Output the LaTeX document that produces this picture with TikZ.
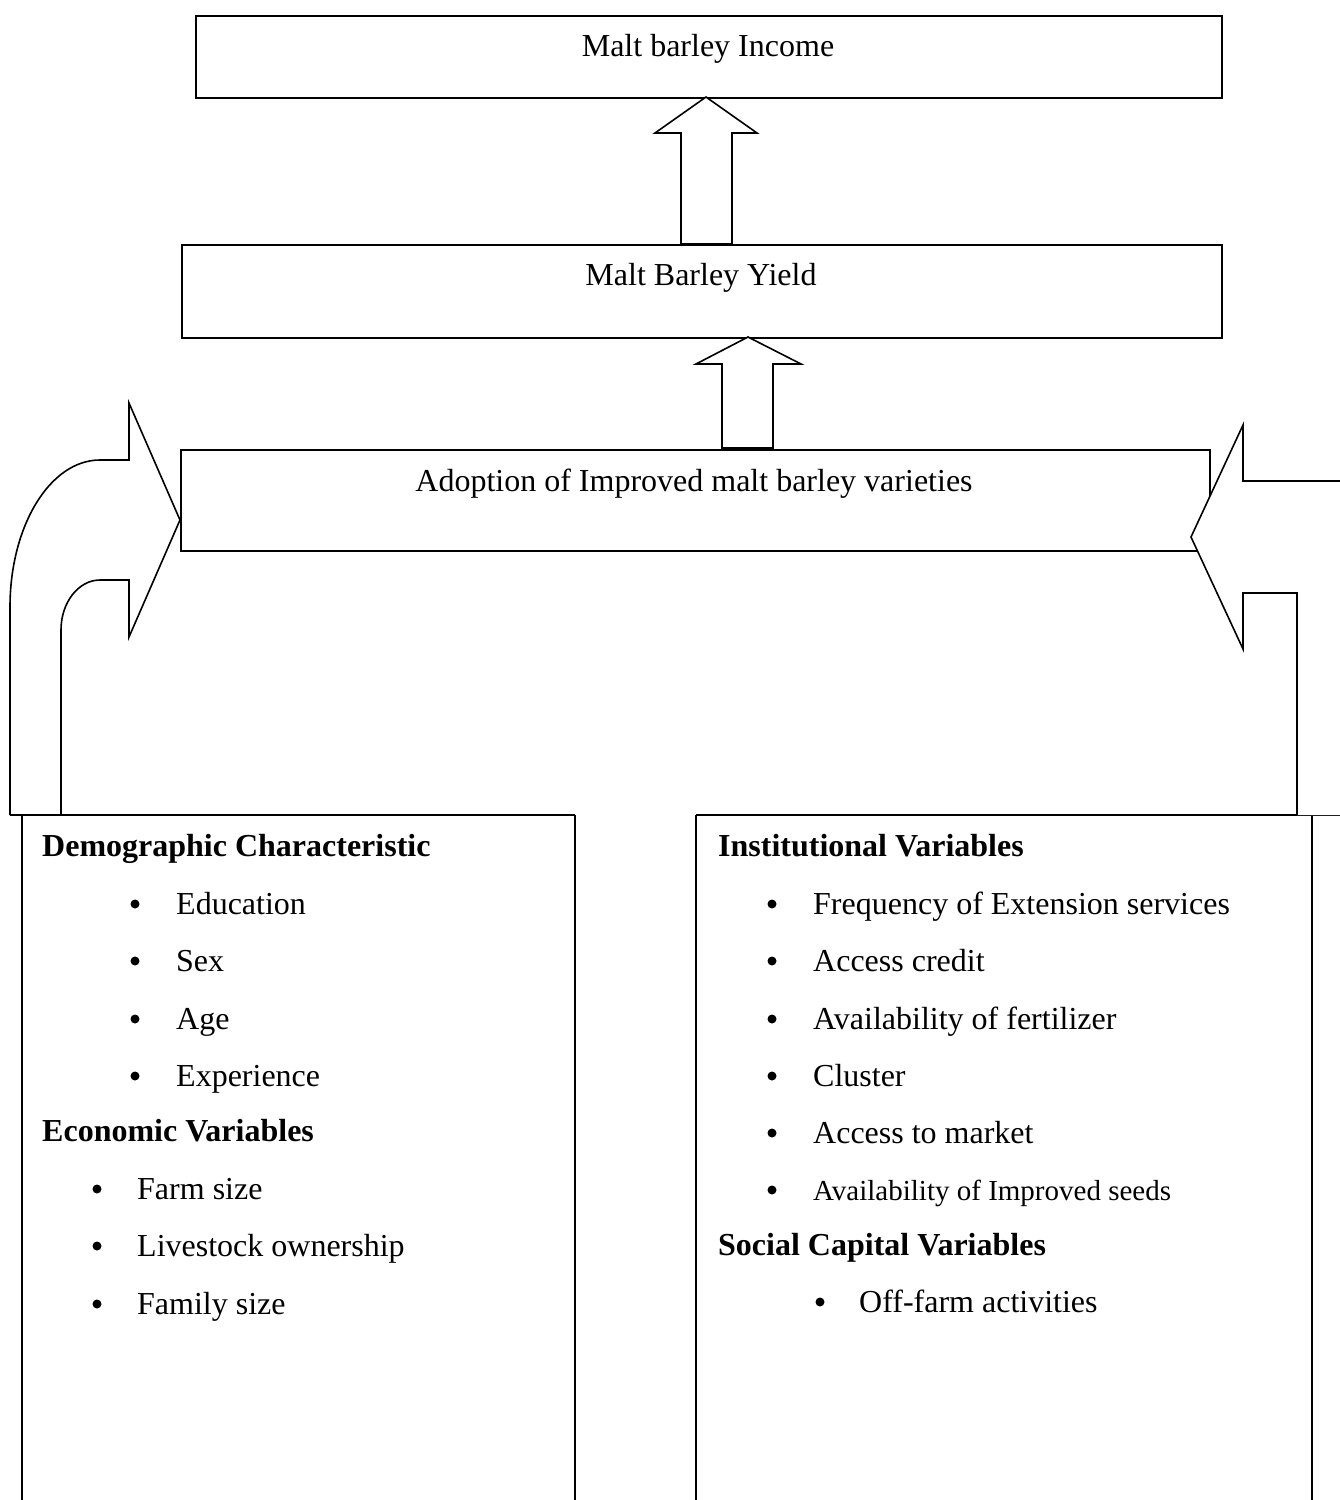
\documentclass[tikz,border=0pt]{standalone}
\usepackage{fontspec}
\setmainfont{Liberation Serif}
\begin{document}
\begin{tikzpicture}[x=1pt,y=-1pt,
  box/.style={draw, line width=1.8pt, rectangle, inner sep=0pt, anchor=north west},
  blk/.style={draw, line width=1.6pt, fill=white, line join=miter},
  edge/.style={draw, line width=1.6pt},
  ctxt/.style={inner sep=0pt, anchor=base, font=\fontsize{32}{38}\selectfont},
  ltxt/.style={inner sep=0pt, anchor=base west, font=\fontsize{32}{38}\selectfont},
  stxt/.style={inner sep=0pt, anchor=base west, font=\fontsize{29}{34}\selectfont},
  head/.style={inner sep=0pt, anchor=base west, font=\fontsize{32}{38}\selectfont\bfseries},
  dot/.style={circle, fill, inner sep=0pt, minimum size=9pt}
]
\useasboundingbox (0,0) rectangle (1340,1500);
\clip (0,0) rectangle (1340,1500);

% main boxes
\node[box, minimum width=1026pt, minimum height=82pt] (inc) at (195,15) {};
\node[ctxt] (inct) at (708,56) {Malt barley Income};
\node[box, minimum width=1040pt, minimum height=93pt] (yld) at (181,244) {};
\node[ctxt] (yldt) at (701,285) {Malt Barley Yield};
\node[box, minimum width=1029pt, minimum height=101pt] (adp) at (180,449) {};
\node[ctxt] (adpt) at (694,491) {Adoption of Improved malt barley varieties};

% up block arrows
\draw[blk] (706,97) -- (757,133) -- (732,133) -- (732,244) -- (681,244) -- (681,133) -- (655,133) -- cycle;
\draw[blk] (748,337) -- (801,364) -- (773,364) -- (773,448) -- (722,448) -- (722,364) -- (696,364) -- cycle;

% lower boxes (open at the bottom)
\coordinate (lbl) at (22,1510);
\coordinate (lbr) at (575,1510);
\coordinate (rbl) at (696,1510);
\coordinate (rbr) at (1312,1510);
\draw[edge] (10,815) -- (575,815);
\draw[edge] (22,815) -- (lbl);
\draw[edge] (575,815) -- (lbr);
\draw[edge] (696,815) -- (1345,815);
\draw[edge] (696,815) -- (rbl);
\draw[edge] (1312,815) -- (rbr);

% left bent arrow
\draw[edge, line join=miter] (10,815) -- (10,607) .. controls (10,526) and (50,460) .. (100,460)
  -- (129,460) -- (129,403) -- (180,520) -- (129,637) -- (129,580) -- (100,580)
  .. controls (78.5,580) and (61,602.4) .. (61,630) -- (61,815);

% right bent arrow (cut by the page edge)
\fill[white] (1297,815) -- (1297,593) -- (1243,593) -- (1243,649) -- (1191,537) -- (1243,425) -- (1243,481) -- (1345,481) -- (1345,815) -- cycle;
\draw[edge, line join=miter] (1297,815) -- (1297,593) -- (1243,593) -- (1243,649) -- (1191,537) -- (1243,425) -- (1243,481) -- (1345,481);

% left box text
\node[head] (dem) at (42,856) {Demographic Characteristic};
\foreach \n/\t/\y in {d1/Education/914, d2/Sex/971, d3/Age/1029, d4/Experience/1086} {
  \node[ltxt] (\n) at (176,\y) {\t};
  \node[dot] (b\n) at (135,{\y-10}) {};
}
\node[head] (eco) at (42,1141) {Economic Variables};
\foreach \n/\t/\y in {c1/Farm size/1199, c2/Livestock ownership/1256, c3/Family size/1314} {
  \node[ltxt] (\n) at (137,\y) {\t};
  \node[dot] (b\n) at (97,{\y-10}) {};
}

% right box text
\node[head] (ins) at (718,856) {Institutional Variables};
\foreach \n/\t/\y in {i1/Frequency of Extension services/914, i2/Access credit/971, i3/Availability of fertilizer/1029, i4/Cluster/1086, i5/Access to market/1143} {
  \node[ltxt] (\n) at (813,\y) {\t};
  \node[dot] (b\n) at (772,{\y-10}) {};
}
\node[stxt] (i6) at (813,1200) {Availability of Improved seeds};
\node[dot] (bi6) at (772,1190) {};
\node[head] (soc) at (718,1255) {Social Capital Variables};
\node[ltxt] (s1) at (859,1312) {Off-farm activities};
\node[dot] (bs1) at (820,1302) {};
\end{tikzpicture}
\end{document}
